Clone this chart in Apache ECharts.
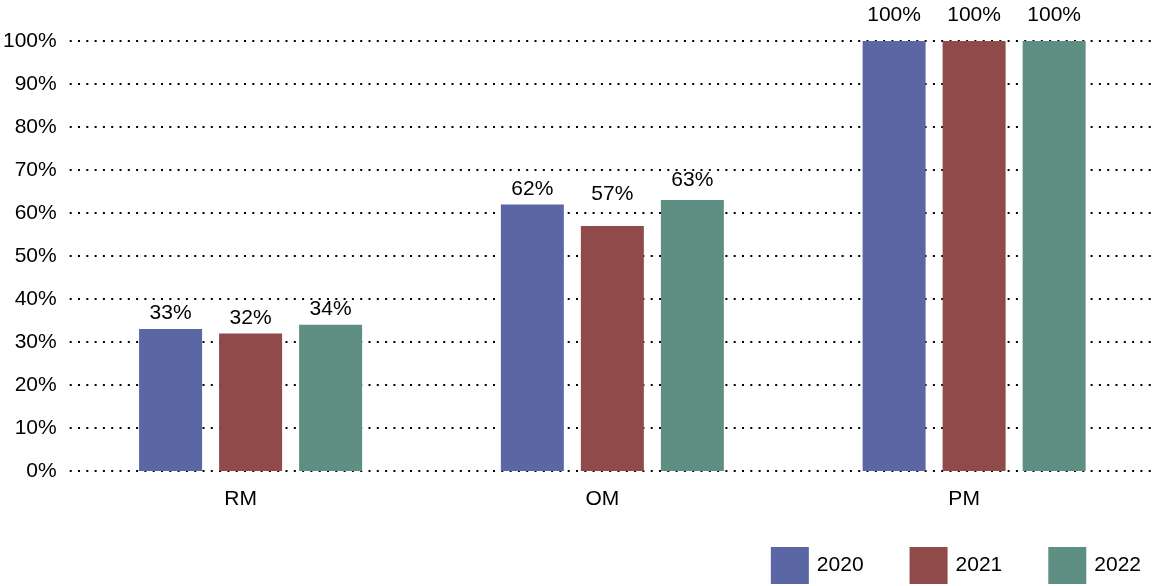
<!DOCTYPE html>
<html>
<head>
<meta charset="utf-8">
<script src="https://cdn.jsdelivr.net/npm/echarts@6/dist/echarts.min.js"></script>
<style>
  html, body { margin: 0; padding: 0; background: #fff; }
  #chart { width: 1161px; height: 586px; }
</style>
</head>
<body>
<div id="chart"></div>
<script>
// groups on the x axis
const categories = ['RM', 'OM', 'PM'];
// percent per year
const values2020 = [33, 62, 100];
const values2021 = [32, 57, 100];
const values2022 = [34, 63, 100];
const years = ['2020', '2021', '2022'];
const colors = ['#5b67a4', '#8f4a49', '#5f8f82'];

const font = 'Liberation Sans, Arial, Helvetica, sans-serif';

// labels in the original sit a bit higher on some bars
const labelLift = {
  '2020': [5, 5, 15],
  '2021': [5, 21, 15],
  '2022': [5, 9, 15]
};

const makeSeries = (name, data, color) => ({
  name: name,
  type: 'bar',
  data: data.map((v, i) => ({
    value: v,
    label: { distance: labelLift[name][i] }
  })),
  barWidth: 63,
  barGap: '27%',
  itemStyle: { color: color },
  label: {
    show: true,
    position: 'top',
    distance: 5,
    formatter: '{c}%',
    color: '#000',
    fontSize: 21,
    fontFamily: font
  }
});

const myChart = echarts.init(document.getElementById('chart'));
myChart.setOption({
  animation: false,
  backgroundColor: '#fff',
  grid: { left: 68, right: 6, top: 41, bottom: 115 },
  legend: {
    data: years,
    right: 15,
    top: 542,
    itemWidth: 38,
    itemHeight: 37,
    itemGap: 46,
    icon: 'rect',
    textStyle: { color: '#000', fontSize: 21, fontFamily: font, padding: [0, 0, 0, 3] }
  },
  xAxis: {
    type: 'category',
    data: categories,
    axisLine: { show: false },
    axisTick: { show: false },
    axisLabel: {
      color: '#000',
      fontSize: 21,
      fontFamily: font,
      margin: 18,
      padding: [0, 20, 0, 0]
    }
  },
  yAxis: {
    type: 'value',
    min: 0,
    max: 100,
    interval: 10,
    axisLine: { show: false },
    axisTick: { show: false },
    axisLabel: {
      formatter: '{value}%',
      color: '#000',
      fontSize: 21,
      fontFamily: font,
      margin: 13
    },
    splitLine: {
      lineStyle: { color: '#000', width: 2, type: [2, 6.3] }
    }
  },
  series: [
    makeSeries(years[0], values2020, colors[0]),
    makeSeries(years[1], values2021, colors[1]),
    makeSeries(years[2], values2022, colors[2])
  ]
});
</script>
</body>
</html>
